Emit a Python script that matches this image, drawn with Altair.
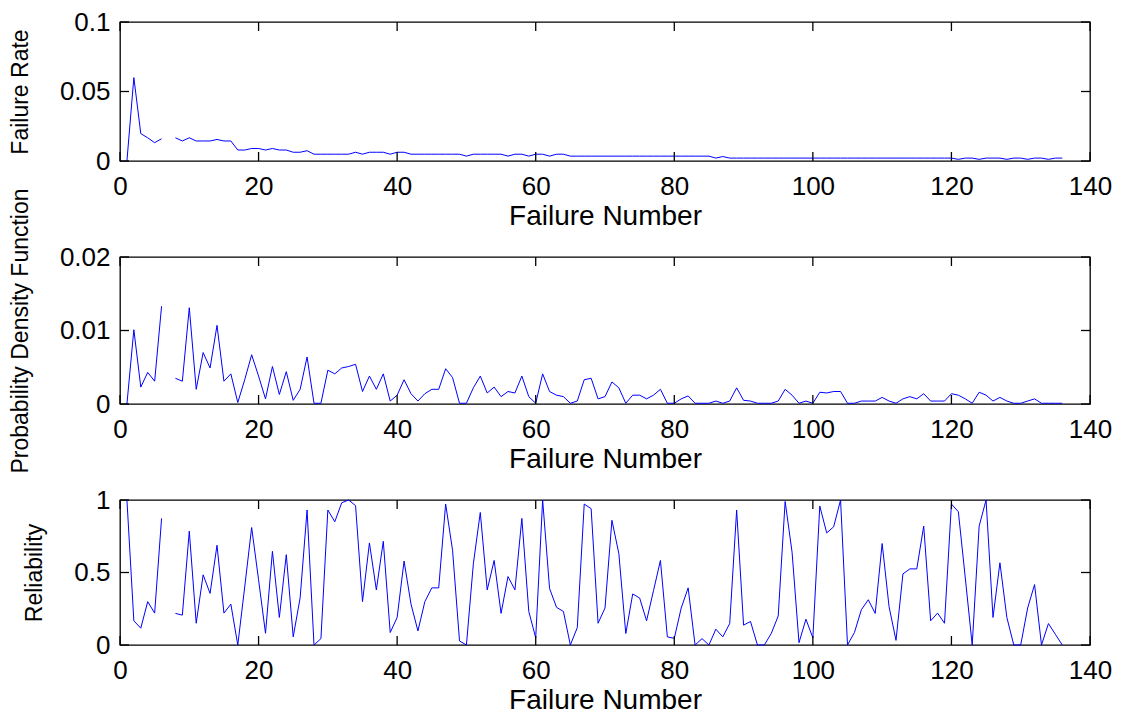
import altair as alt
import pandas as pd

nan = float("nan")

failure_number = list(range(1, 137))

failure_rate = [
    0.0, 0.060, 0.0197, 0.0167, 0.0132, 0.016, nan, 0.0167, 0.0144, 0.0167,
    0.0144, 0.0144, 0.0144, 0.0155, 0.0144, 0.0144, 0.0079, 0.0079, 0.009, 0.009,
    0.0079, 0.009, 0.0079, 0.0079, 0.0063, 0.0063, 0.0074, 0.0049, 0.0049, 0.0049,
    0.0049, 0.0049, 0.0049, 0.0063, 0.0049, 0.0063, 0.0063, 0.0063, 0.0049, 0.0063,
    0.0063, 0.0049, 0.0049, 0.0049, 0.0049, 0.0049, 0.0049, 0.0049, 0.0049, 0.0035,
    0.0049, 0.0049, 0.0049, 0.0049, 0.0049, 0.0035, 0.0049, 0.0049, 0.0035, 0.0049,
    0.0049, 0.0035, 0.0049, 0.0049, 0.0035, 0.0035, 0.0035, 0.0035, 0.0035, 0.0035,
    0.0035, 0.0035, 0.0035, 0.0035, 0.0035, 0.0035, 0.0035, 0.0035, 0.0035, 0.0035,
    0.0035, 0.0035, 0.0035, 0.0035, 0.0035, 0.0021, 0.0032, 0.0021, 0.0021, 0.0021,
    0.0021, 0.0021, 0.0021, 0.0021, 0.0021, 0.0021, 0.0021, 0.0021, 0.0021, 0.0021,
    0.0021, 0.0021, 0.0021, 0.0021, 0.0021, 0.0021, 0.0021, 0.0021, 0.0021, 0.0021,
    0.0021, 0.0021, 0.0021, 0.0021, 0.0021, 0.0021, 0.0021, 0.0021, 0.0021, 0.0021,
    0.0012, 0.0021, 0.0021, 0.0012, 0.0021, 0.0021, 0.0021, 0.0012, 0.0021, 0.0021,
    0.0012, 0.0021, 0.0021, 0.0012, 0.0021, 0.0021,
]

prob_density = [
    0.0, 0.0101, 0.0023, 0.0043, 0.0031, 0.0133, nan, 0.0035, 0.0031, 0.0131,
    0.0020, 0.0070, 0.0049, 0.0107, 0.0031, 0.0041, 0.0002, 0.0033, 0.0067, 0.0038,
    0.0007, 0.0051, 0.0013, 0.0044, 0.0005, 0.0020, 0.0064, 0.0001, 0.0001, 0.0046,
    0.0041, 0.0049, 0.0051, 0.0054, 0.0017, 0.0038, 0.0020, 0.0041, 0.0004, 0.0012,
    0.0033, 0.0014, 0.0004, 0.0014, 0.0020, 0.0020, 0.0048, 0.0036, 0.0001, 0.0001,
    0.0022, 0.0038, 0.0015, 0.0023, 0.0010, 0.0017, 0.0015, 0.0038, 0.0010, 0.0001,
    0.0041, 0.0017, 0.0012, 0.0010, 0.0001, 0.0004, 0.0033, 0.0035, 0.0007, 0.0010,
    0.0030, 0.0022, 0.0001, 0.0012, 0.0012, 0.0007, 0.0012, 0.0020, 0.0001, 0.0001,
    0.0007, 0.0011, 0.0001, 0.0001, 0.0001, 0.0004, 0.0001, 0.0004, 0.0022, 0.0005,
    0.0004, 0.0001, 0.0001, 0.0001, 0.0004, 0.0020, 0.0012, 0.0001, 0.0004, 0.0001,
    0.0016, 0.0015, 0.0017, 0.0017, 0.0001, 0.0001, 0.0004, 0.0004, 0.0004, 0.0009,
    0.0004, 0.0001, 0.0007, 0.0010, 0.0007, 0.0014, 0.0004, 0.0004, 0.0004, 0.0014,
    0.0012, 0.0007, 0.0001, 0.0016, 0.0012, 0.0004, 0.0009, 0.0004, 0.0001, 0.0001,
    0.0004, 0.0007, 0.0001, 0.0001, 0.0001, 0.0001,
]

reliability = [
    1.0, 0.167, 0.116, 0.299, 0.220, 0.873, nan, 0.218, 0.206, 0.785,
    0.150, 0.484, 0.356, 0.688, 0.220, 0.282, 0.0, 0.40, 0.810, 0.45,
    0.081, 0.646, 0.190, 0.623, 0.056, 0.326, 0.931, 0.0, 0.044, 0.931,
    0.850, 0.981, 1.0, 0.961, 0.299, 0.704, 0.380, 0.715, 0.086, 0.190,
    0.579, 0.282, 0.097, 0.299, 0.394, 0.394, 0.972, 0.653, 0.028, 0.0,
    0.56, 0.914, 0.38, 0.583, 0.218, 0.472, 0.38, 0.873, 0.231, 0.05,
    1.0, 0.39, 0.26, 0.231, 0.0, 0.12, 0.972, 0.94, 0.15, 0.255,
    0.86, 0.63, 0.079, 0.352, 0.324, 0.167, 0.375, 0.583, 0.056, 0.046,
    0.255, 0.394, 0.0, 0.044, 0.0, 0.109, 0.056, 0.148, 0.93, 0.137,
    0.162, 0.0, 0.0, 0.08, 0.2, 0.99, 0.64, 0.016, 0.178, 0.05,
    0.958, 0.773, 0.815, 1.0, 0.0, 0.086, 0.243, 0.312, 0.218, 0.70,
    0.264, 0.032, 0.49, 0.525, 0.525, 0.82, 0.167, 0.22, 0.15, 0.972,
    0.919, 0.463, 0.0, 0.82, 1.0, 0.19, 0.567, 0.19, 0.0, 0.0,
    0.255, 0.417, 0.0, 0.148, 0.074, 0.0,
]

x_ticks = [0, 20, 40, 60, 80, 100, 120, 140]
fr_ticks = [0, 0.05, 0.1]
pdf_ticks = [0, 0.01, 0.02]
rel_ticks = [0, 0.5, 1]

W = 970
TICK = 9


def panel(values, ytitle, ydomain, yticks, h):
    df = pd.DataFrame({"n": failure_number, "v": values})
    x = alt.X(
        "n:Q",
        scale=alt.Scale(domain=[0, 140], nice=False, zero=False),
        axis=alt.Axis(values=x_ticks, title="Failure Number", format="d"),
    )
    y = alt.Y(
        "v:Q",
        scale=alt.Scale(domain=ydomain, nice=False),
        axis=alt.Axis(values=yticks, title=ytitle, format="~g"),
    )
    line = (
        alt.Chart(df)
        .mark_line(color="#0000ff", strokeWidth=1, invalid="break-paths-show-domains")
        .encode(x=x, y=y)
    )
    xt = pd.DataFrame({"n": x_ticks})
    yt = pd.DataFrame({"v": yticks})
    bottom = alt.Chart(xt).mark_rule(color="black", strokeWidth=1.3).encode(
        x="n:Q", y=alt.value(h), y2=alt.value(h - TICK)
    )
    top = alt.Chart(xt).mark_rule(color="black", strokeWidth=1.3).encode(
        x="n:Q", y=alt.value(0), y2=alt.value(TICK)
    )
    left = alt.Chart(yt).mark_rule(color="black", strokeWidth=1.3).encode(
        y="v:Q", x=alt.value(0), x2=alt.value(TICK)
    )
    right = alt.Chart(yt).mark_rule(color="black", strokeWidth=1.3).encode(
        y="v:Q", x=alt.value(W), x2=alt.value(W - TICK)
    )
    return alt.layer(line, bottom, top, left, right).properties(width=W, height=h)


p1 = panel(failure_rate, "Failure Rate", [0, 0.1], fr_ticks, 139)
p2 = panel(prob_density, "Probability Density Function", [0, 0.02], pdf_ticks, 147)
p3 = panel(reliability, "Reliability", [0, 1], rel_ticks, 145)

chart = (
    alt.vconcat(p1, p2, p3, spacing=96, bounds="flush")
    .properties(padding={"left": 0, "top": 0, "right": 0, "bottom": 0})
    .configure_view(stroke="black", strokeWidth=1.3)
    .configure_axis(
        labelFont="Liberation Sans",
        labelFontSize=26,
        labelColor="black",
        titleFont="Liberation Sans",
        titleFontSize=28,
        titleFontWeight="normal",
        titleColor="black",
        domain=False,
        ticks=False,
        grid=False,
        labelFlush=False,
        labelOverlap=False,
    )
    .configure_axisX(labelPadding=12, titlePadding=3)
    .configure_axisY(
        labelPadding=10,
        titlePadding=27,
        titleFont="Liberation Sans",
        titleFontSize=23,
    )
)

chart.save("out.html", embed_options={"renderer": "svg", "actions": False})
